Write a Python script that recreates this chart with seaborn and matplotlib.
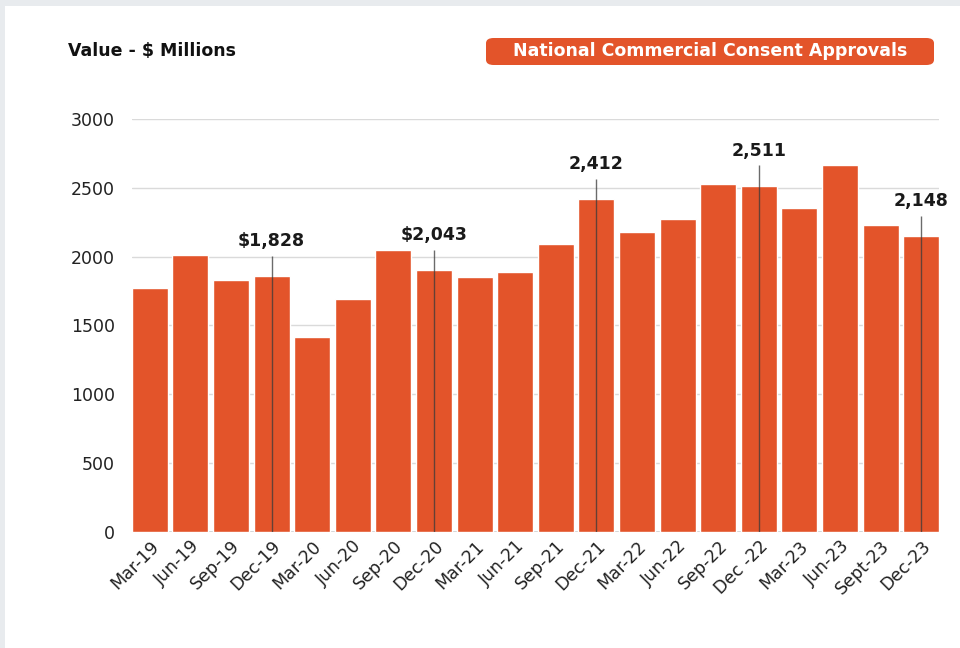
import matplotlib
matplotlib.use("Agg")
import matplotlib.pyplot as plt
import seaborn as sns
import pandas as pd
from matplotlib.patches import Rectangle, FancyBboxPatch

# quarterly values ($ millions)
quarters = ["Mar-19", "Jun-19", "Sep-19", "Dec-19", "Mar-20", "Jun-20", "Sep-20",
            "Dec-20", "Mar-21", "Jun-21", "Sep-21", "Dec-21", "Mar-22", "Jun-22",
            "Sep-22", "Dec -22", "Mar-23", "Jun-23", "Sept-23", "Dec-23"]
values = [1772, 2010, 1828, 1857, 1416, 1695, 2046, 1900, 1852, 1886,
          2093, 2415, 2180, 2275, 2524, 2512, 2350, 2665, 2233, 2148]

# callouts: which bar the marker line sits on, and the text shown
callout_bars = ["Dec-19", "Dec-20", "Dec-21", "Dec -22", "Dec-23"]
callout_text = ["$1,828", "$2,043", "2,412", "2,511", "2,148"]

df = pd.DataFrame({"quarter": quarters, "value": values})

orange = "#E3542A"
sns.set_style("white")
plt.rcParams["font.family"] = ["DejaVu Sans"]

fig = plt.figure(figsize=(9.6, 6.48), dpi=100)
fig.patch.set_facecolor("white")
# light grey frame strips on the top and left edge
fig.patches.append(Rectangle((0, 1 - 6 / 648), 1, 6 / 648, transform=fig.transFigure,
                             facecolor="#E8EBEE", edgecolor="none"))
fig.patches.append(Rectangle((0, 0), 5 / 960, 1, transform=fig.transFigure,
                             facecolor="#E8EBEE", edgecolor="none"))

ax = fig.add_axes([131.7 / 960, 1 - 531.7 / 648, (939.3 - 131.7) / 960, (531.7 - 119) / 648])
ax.set_facecolor("none")

sns.barplot(data=df, x="quarter", y="value", color=orange, width=0.89,
            saturation=1, ax=ax, zorder=2)

ax.set_ylim(0, 3000)
ax.set_xlim(-0.445, len(quarters) - 0.555)
ax.set_yticks(range(0, 3001, 500))
ax.yaxis.grid(True, color="#DADADA", linewidth=1)
ax.set_axisbelow(True)
for s in ax.spines.values():
    s.set_visible(False)
ax.axhline(0, color="#D0D0D0", linewidth=1.2, zorder=1)

ax.set_xlabel("")
ax.set_ylabel("")
ax.tick_params(axis="y", labelsize=12.5, colors="#222222", length=0, pad=12)
ax.tick_params(axis="x", labelsize=12.5, colors="#222222", length=0, pad=4)
plt.setp(ax.get_xticklabels(), rotation=45, ha="right", rotation_mode="anchor")

for name, txt in zip(callout_bars, callout_text):
    i = quarters.index(name)
    top = values[i] + 150
    ax.vlines(i, 0, top, color="#3A3A3A", linewidth=1, alpha=0.75, zorder=3)
    ax.text(i, top + 40, txt, ha="center", va="bottom", fontsize=12.5,
            fontweight="bold", color="#1A1A1A", zorder=4)

fig.text(68 / 960, 1 - 51 / 648, "Value - $ Millions", fontsize=12.5, fontweight="bold",
         color="#111111", va="center", ha="left")

badge = FancyBboxPatch((486 / 960, 1 - 65 / 648), (934 - 486) / 960, 27 / 648,
                       boxstyle="round,pad=0,rounding_size=0.008",
                       transform=fig.transFigure, facecolor=orange, edgecolor="none")
fig.patches.append(badge)
fig.text(710 / 960, 1 - 51.5 / 648, "National Commercial Consent Approvals", fontsize=12.5,
         fontweight="bold", color="white", ha="center", va="center")

fig.savefig("out.png", dpi=100)
